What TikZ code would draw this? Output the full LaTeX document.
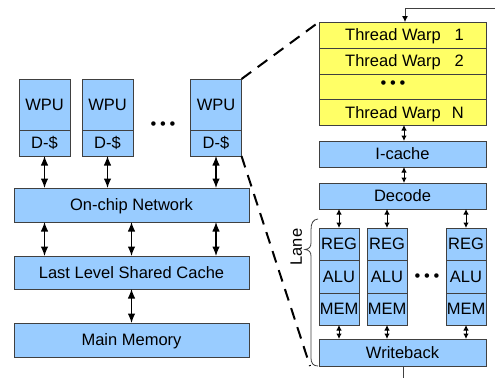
\documentclass[tikz,border=0pt]{standalone}
\usepackage{fontspec}
\setmainfont{Liberation Sans}
\usetikzlibrary{arrows.meta}
\definecolor{boxblue}{HTML}{99CCFF}
\definecolor{warpyellow}{HTML}{FFFF66}
\definecolor{edge}{HTML}{404040}
\begin{document}
\begin{tikzpicture}[x=1pt,y=-1pt, font=\fontsize{16.5}{19}\selectfont,
  blk/.style={draw=edge, line width=0.8pt, fill=boxblue, inner sep=0pt, outer sep=0pt, text height=11.8pt, text depth=0pt},
  ylw/.style={draw=edge, line width=0.8pt, fill=warpyellow, inner sep=0pt, outer sep=0pt, minimum width=167pt, text height=11.8pt, text depth=0pt},
  big/.style={{Latex[length=9.5pt,width=7.5pt]}-{Latex[length=9.5pt,width=7.5pt]}, line width=1.2pt},
  sml/.style={{Latex[length=5.5pt,width=5.5pt]}-{Latex[length=5.5pt,width=5.5pt]}, line width=1pt},
  dashln/.style={line width=2pt, dash pattern=on 12pt off 8pt},
  dotsty/.style={anchor=base, inner sep=0pt, text height=8pt, text depth=0pt, font=\fontsize{16.5}{17}\selectfont},
  thin/.style={draw=edge, line width=0.8pt},
]
\fill[white] (0,0) rectangle (495,378);
\useasboundingbox (0,0) rectangle (495,378);

% ---------- left: system ----------
\node[blk, minimum width=51pt, minimum height=51pt] (wpu1) at (44.5,104.5) {WPU};
\node[blk, minimum width=51pt, minimum height=26pt] (ds1) at (44.5,143) {D-\$};
\node[blk, minimum width=51pt, minimum height=51pt] (wpu2) at (107.5,104.5) {WPU};
\node[blk, minimum width=51pt, minimum height=26pt] (ds2) at (107.5,143) {D-\$};
\node[blk, minimum width=51pt, minimum height=51pt] (wpu3) at (216,104.5) {WPU};
\node[blk, minimum width=51pt, minimum height=26pt] (ds3) at (216,143) {D-\$};
\node[dotsty] (dotsL) at (163,129) {•\hspace{3.7pt}•\hspace{3.7pt}•};

\node[blk, minimum width=235pt, minimum height=34pt] (net) at (131.5,205) {On-chip Network};
\node[blk, minimum width=235pt, minimum height=33pt] (llc) at (131.5,272.5) {Last Level Shared Cache};
\node[blk, minimum width=235pt, minimum height=34pt] (mem) at (131.5,340) {Main Memory};

\draw[big] (ds1.south) -- (ds1.south |- net.north);
\draw[big] (ds2.south) -- (ds2.south |- net.north);
\draw[big] (ds3.south) -- (ds3.south |- net.north);
\draw[big] (net.south -| ds1.south) -- (llc.north -| ds1.south);
\draw[big] (net.south) -- (llc.north);
\draw[big] (net.south -| ds3.south) -- (llc.north -| ds3.south);
\draw[big] (llc.south) -- (mem.north);

% ---------- right: WPU detail ----------
\node[ylw, minimum height=26pt] (w1) at (402.5,35) {\hspace*{4pt}Thread Warp\hspace{11pt}\makebox[12pt][r]{1}};
\node[ylw, minimum height=26pt] (w2) at (402.5,61) {\hspace*{4pt}Thread Warp\hspace{11pt}\makebox[12pt][r]{2}};
\node[ylw, minimum height=25.5pt] (w3) at (402.5,86.75) {};
\node[ylw, minimum height=25.5pt] (wN) at (402.5,112.25) {\hspace*{4pt}Thread Warp\hspace{11pt}\makebox[12pt][r]{N}};
\node[dotsty] (dotsW) at (393,88) {•\hspace{3.7pt}•\hspace{3.7pt}•};

\node[blk, minimum width=167pt, minimum height=26pt] (ic) at (402.5,154) {I-cache};
\node[blk, minimum width=167pt, minimum height=26pt] (dec) at (402.5,196) {Decode};

\draw[sml] ([xshift=1.5pt]wN.south) -- ([xshift=1.5pt]ic.north);
\draw[sml] ([xshift=1.5pt]ic.south) -- ([xshift=1.5pt]dec.north);

\foreach \i/\x in {1/339,2/387,3/466}{
  \node[blk, minimum width=40pt, minimum height=32pt] (reg\i) at (\x,244) {REG};
  \node[blk, minimum width=40pt, minimum height=33pt] (alu\i) at (\x,276.5) {ALU};
  \node[blk, minimum width=40pt, minimum height=32pt] (mm\i) at (\x,309) {MEM};
}
\node[dotsty] (dotsLane) at (427,281) {•\hspace{3.7pt}•\hspace{3.7pt}•};

\node[blk, minimum width=167pt, minimum height=27pt] (wb) at (402.5,352.5) {Writeback};

\foreach \i in {1,2,3}{
  \draw[sml] (dec.south -| reg\i.north) -- (reg\i.north);
  \draw[sml] (mm\i.south) -- (mm\i.south |- wb.north);
}

% feedback line top and bottom
\coordinate (tr) at (495,8);
\draw[thin, -{Latex[length=6pt,width=6pt,color=black]}] (tr) -| ([xshift=2.5pt]w1.north);
\coordinate (bt) at (403,378);
\draw[thin] ([xshift=0.5pt]wb.south) -- (bt);

% lane brace
\draw[thin] (318,219) .. controls (313,219.5) and (311,223) .. (311,230) -- (311,243)
  .. controls (311,247) and (309,249) .. (305,249.5)
  .. controls (309,250) and (311,252) .. (311,256) -- (311,358)
  .. controls (311,363) and (313,366) .. (318,366);
\node[rotate=90, inner sep=0pt, text height=11.8pt, text depth=0pt] (lane) at (296,247) {Lane};

% zoom dashed lines
\draw[dashln] (wpu3.north east) -- (w1.north west);
\coordinate (dend) at (310,366);
\draw[dashln] (ds3.south east) -- (dend);
\end{tikzpicture}
\end{document}
